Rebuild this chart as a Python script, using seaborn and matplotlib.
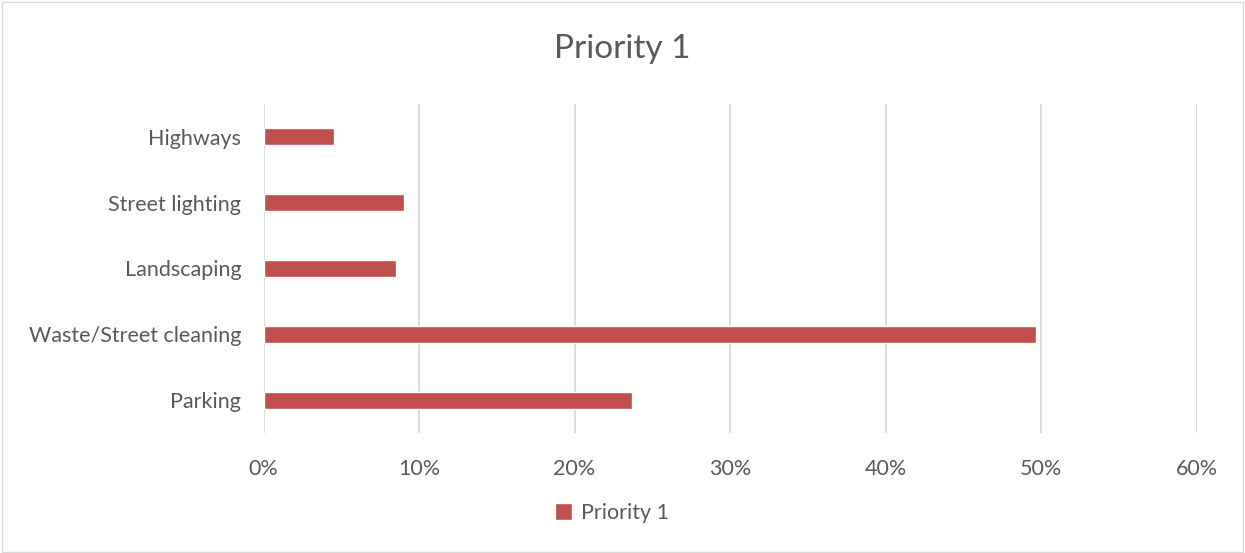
import matplotlib
matplotlib.use("Agg")
import pandas as pd
import seaborn as sbn
import matplotlib.pyplot as plt
from matplotlib.ticker import PercentFormatter
from matplotlib.patches import Rectangle

categories = ["Highways", "Street lighting", "Landscaping", "Waste/Street cleaning", "Parking"]
values = [0.0455, 0.0906, 0.085, 0.497, 0.237]
series_name = "Priority 1"
x_ticks = [0, 0.1, 0.2, 0.3, 0.4, 0.5, 0.6]

bar_color = "#C0504D"
text_color = "#595959"
grid_color = "#D9D9D9"

df = pd.DataFrame({"category": categories, "value": values, "series": series_name})

sbn.set_style("white")
plt.rcParams["font.family"] = ["Lato", "DejaVu Sans"]

fig = plt.figure(figsize=(12.45, 5.53), dpi=100)
axes = fig.add_axes([263.5 / 1245, 1 - 433 / 553, (1196.5 - 263.5) / 1245, (433 - 104) / 553])

sbn.barplot(data=df, x="value", y="category", hue="series", palette=[bar_color],
            width=0.26, ax=axes, saturation=1, legend=True)

axes.set_xlim(0, 0.6)
axes.set_xticks(x_ticks)
axes.xaxis.set_major_formatter(PercentFormatter(1.0, decimals=0))
axes.grid(axis="x", color=grid_color, linewidth=1.3)
axes.set_axisbelow(True)
for s in axes.spines.values():
    s.set_visible(False)
axes.set_xlabel("")
axes.set_ylabel("")
axes.tick_params(axis="both", length=0, labelsize=15.5, labelcolor=text_color)
axes.tick_params(axis="y", pad=16)
axes.tick_params(axis="x", pad=19)

fig.text(0.5, 1 - 49 / 553, series_name, fontsize=24, color=text_color,
         ha="center", va="center")

leg = axes.legend(loc="center", bbox_to_anchor=(612 / 1245, 1 - 513 / 553),
                  bbox_transform=fig.transFigure, frameon=False, fontsize=15.5,
                  handlelength=0.8, handleheight=0.8, handletextpad=0.4)
for t in leg.get_texts():
    t.set_color(text_color)

# chart frame
fig.patches.append(Rectangle((0.002, 0.002), 0.996, 0.994, transform=fig.transFigure,
                             fill=False, edgecolor=grid_color, linewidth=1))

fig.savefig("out.png", dpi=100)
